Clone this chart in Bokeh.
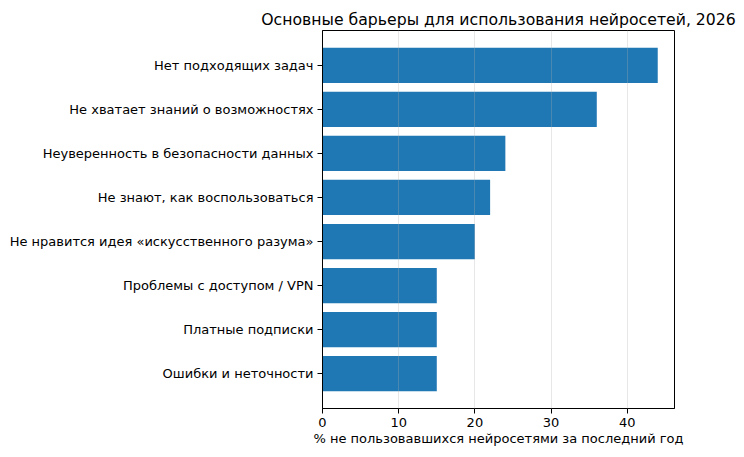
from bokeh.plotting import figure
from bokeh.models import ColumnDataSource, FixedTicker, Range1d
from bokeh.embed import file_html
from bokeh.resources import INLINE

reasons = [
    "Нет подходящих задач",
    "Не хватает знаний о возможностях",
    "Неуверенность в безопасности данных",
    "Не знают, как воспользоваться",
    "Не нравится идея «искусственного разума»",
    "Проблемы с доступом / VPN",
    "Платные подписки",
    "Ошибки и неточности",
]
shares = [44, 36, 24, 22, 20, 15, 15, 15]

pos = list(range(len(reasons)))
src = ColumnDataSource(dict(y=pos, share=shares))

p = figure(width=744, height=457, output_backend="svg", toolbar_location=None,
           x_range=Range1d(0, max(shares) * 1.05),
           y_range=Range1d(len(reasons) - 1 + 0.79, -0.79),
           min_border_left=322, min_border_right=70, min_border_top=30, min_border_bottom=49)

p.hbar(y="y", left=0, right="share", height=0.8, source=src,
       fill_color="#1f77b4", line_color=None)

p.title.text = "Основные барьеры для использования нейросетей, 2026"
p.title.align = "center"
p.title.text_font = "DejaVu Sans"
p.title.text_font_size = "15.7px"
p.title.text_font_style = "normal"
p.title.text_color = "black"
p.title.standoff = 4

p.yaxis.ticker = FixedTicker(ticks=pos)
p.yaxis.major_label_overrides = {i: r for i, r in enumerate(reasons)}
p.xaxis.ticker = FixedTicker(ticks=[0, 10, 20, 30, 40])
p.xaxis.axis_label = "% не пользовавшихся нейросетями за последний год"

for ax in (p.xaxis, p.yaxis):
    ax.major_label_text_font = "DejaVu Sans"
    ax.major_label_text_font_size = "13px"
    ax.major_label_text_color = "black"
    ax.major_tick_in = 0
    ax.major_tick_out = 5
    ax.minor_tick_in = 0
    ax.minor_tick_out = 0
    ax.axis_line_color = "black"
    ax.major_tick_line_color = "black"
    ax.major_label_standoff = 4
p.xaxis.axis_label_text_font = "DejaVu Sans"
p.xaxis.axis_label_text_font_size = "13px"
p.xaxis.axis_label_text_font_style = "normal"
p.xaxis.axis_label_text_color = "black"
p.xaxis.axis_label_standoff = 1

p.ygrid.grid_line_color = None
p.xgrid.grid_line_color = "#b0b0b0"
p.xgrid.grid_line_alpha = 0.3
p.xgrid.level = "overlay"
p.outline_line_color = "black"
p.outline_line_alpha = 1

open("out.html", "w").write(file_html(p, INLINE))
